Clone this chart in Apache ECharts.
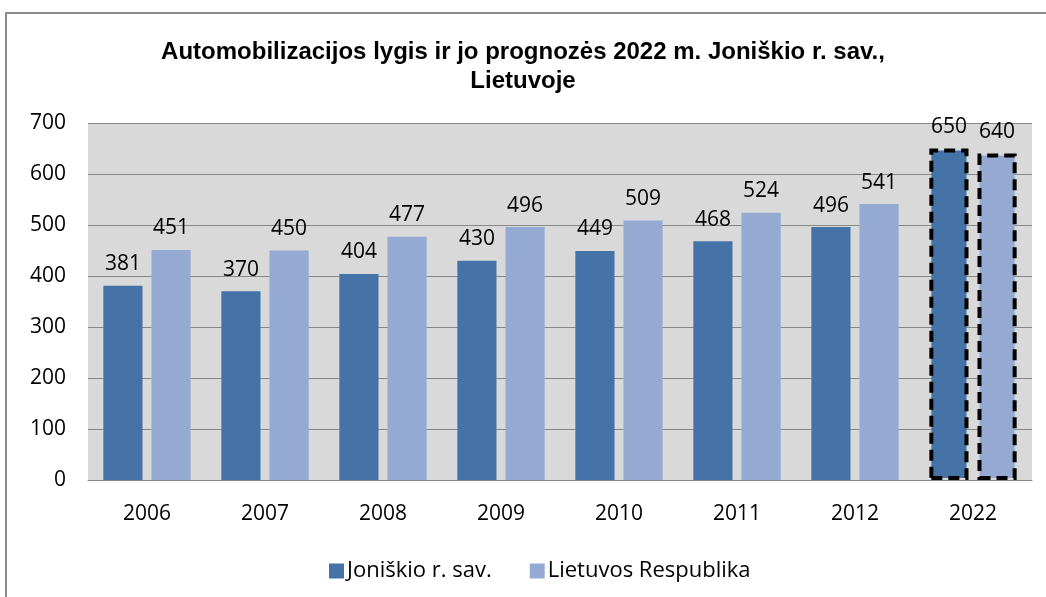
<!DOCTYPE html>
<html><head><meta charset="utf-8">
<script src="https://cdn.jsdelivr.net/npm/echarts@6/dist/echarts.min.js"></script>
<style>
html,body{margin:0;padding:0;background:#fff;}
#frame{position:absolute;left:5px;top:12px;width:1060px;height:600px;border:2px solid #8c8c8c;box-sizing:border-box;}
#c{position:absolute;left:0;top:0;width:1046px;height:597px;}
</style></head>
<body><div id="frame"></div><div id="c"></div>
<script>
const categories = ['2006','2007','2008','2009','2010','2011','2012','2022'];
const joniskis = [381,370,404,430,449,468,496,650];
const lietuva = [451,450,477,496,509,524,541,640];
const seriesNames = ['Joniškio r. sav.','Lietuvos Respublika'];
const forecastCategory = '2022';

const colors = ['#4573a7','#95aad2'];
function mk(vals){
  return vals.map((v,i)=> categories[i]===forecastCategory
    ? {value:v, itemStyle:{borderColor:'#000',borderWidth:4,borderType:[11,6]}}
    : v);
}
const chart = echarts.init(document.getElementById('c'));
const lblFont = '"Open Sans", sans-serif';
chart.setOption({
  animation:false,
  title:{text:'Automobilizacijos lygis ir jo prognozės 2022 m. Joniškio r. sav.,\nLietuvoje',left:'center',top:33,
    textStyle:{fontFamily:'"Liberation Sans Narrow","Liberation Sans",Arial',fontWeight:'bold',fontSize:24,color:'#000',lineHeight:29}},
  grid:{left:88,right:14,top:123,bottom:117,backgroundColor:'#d9d9d9',show:true,borderWidth:0},
  legend:{top:555,left:324,itemWidth:15,itemHeight:15,itemGap:38,icon:'rect',
    textStyle:{fontFamily:lblFont,fontSize:22,color:'#000',padding:[0,0,0,-2]}},
  xAxis:{type:'category',data:categories,axisLine:{lineStyle:{color:'#888',width:1}},axisTick:{show:false},
    axisLabel:{fontFamily:lblFont,fontSize:21,color:'#000',margin:24}},
  yAxis:{type:'value',min:0,max:700,interval:100,axisLine:{show:false},axisTick:{show:false},
    splitLine:{lineStyle:{color:'#888',width:1}},
    axisLabel:{fontFamily:lblFont,fontSize:21,color:'#000',margin:22}},
  series:[
    {name:seriesNames[0],type:'bar',data:mk(joniskis),itemStyle:{color:colors[0]},barGap:'23%',barCategoryGap:'26%',
     label:{show:true,position:'top',distance:11,fontFamily:lblFont,fontSize:21,color:'#000'}},
    {name:seriesNames[1],type:'bar',data:mk(lietuva),itemStyle:{color:colors[1]},
     label:{show:true,position:'top',distance:11,fontFamily:lblFont,fontSize:21,color:'#000'}}
  ]
});
</script></body></html>
